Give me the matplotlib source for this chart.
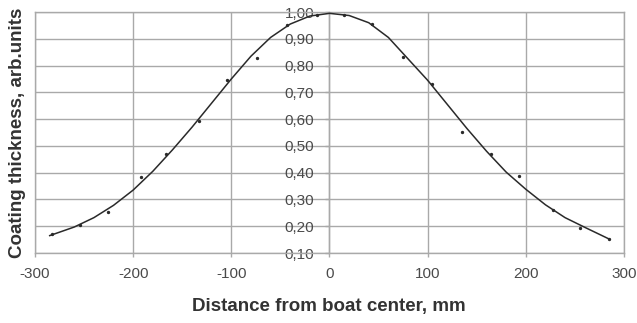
import matplotlib.pyplot as plt
from matplotlib.ticker import FuncFormatter

# measured points, mm from boat center -> relative thickness
dist = [-283, -254, -226, -192, -167, -133, -104, -74, -43, -13,
        15, 43, 75, 104, 135, 165, 193, 228, 255, 285]
thick = [0.172, 0.205, 0.253, 0.385, 0.47, 0.594, 0.746, 0.83, 0.952, 0.99,
         0.99, 0.954, 0.833, 0.73, 0.553, 0.47, 0.389, 0.261, 0.193, 0.152]

# fitted curve
fit_x = [-285, -260, -240, -220, -200, -180, -160, -140, -120, -100,
         -80, -60, -40, -20, 0, 20, 40, 60, 80, 100,
         120, 140, 160, 180, 200, 220, 240, 260, 285]
fit_y = [0.165, 0.197, 0.232, 0.278, 0.335, 0.405, 0.485, 0.570, 0.660, 0.750,
         0.835, 0.905, 0.955, 0.985, 0.995, 0.987, 0.960, 0.905, 0.825, 0.745,
         0.655, 0.565, 0.480, 0.402, 0.338, 0.280, 0.232, 0.196, 0.152]

x_ticks = [-300, -200, -100, 0, 100, 200, 300]
y_ticks = [0.1, 0.2, 0.3, 0.4, 0.5, 0.6, 0.7, 0.8, 0.9, 1.0]

plt.rcParams['font.family'] = ['Liberation Sans', 'DejaVu Sans']
plt.rcParams['axes.unicode_minus'] = False
grid_c = '#a9a9a9'

fig = plt.figure(figsize=(6.37, 3.23), dpi=100)
ax = fig.add_axes([0.0549, 0.2167, 0.9247, 0.7461])

ax.plot(fit_x, fit_y, color='#2a2a2a', lw=1.1, zorder=3)
ax.plot(dist, thick, 'o', color='#2a2a2a', ms=1.4, zorder=4)

ax.set_xlim(-300, 300)
ax.set_ylim(0.1, 1.0)
ax.set_xticks(x_ticks)
ax.set_yticks(y_ticks)
ax.yaxis.set_major_formatter(FuncFormatter(lambda v, p: f'{v:.2f}'.replace('.', ',')))

ax.grid(True, color=grid_c, lw=1.0, zorder=0)
ax.axvline(-300, color=grid_c, lw=1.0, clip_on=False)

ax.spines['left'].set_position(('data', 0))
for s in ax.spines.values():
    s.set_color(grid_c)
    s.set_linewidth(1.0)

ax.tick_params(axis='both', colors=grid_c, labelcolor='#4a4a4a', labelsize=11, length=3, width=1.0)
ax.tick_params(axis='x', pad=7)
ax.tick_params(axis='y', pad=8)

fig.text(0.5165, 0.05, 'Distance from boat center, mm', ha='center', va='center',
         fontsize=13.5, fontweight='bold', color='#333333')
fig.text(0.027, 0.589, 'Coating thickness, arb.units', ha='center', va='center',
         rotation=90, fontsize=13.5, fontweight='bold', color='#333333')

fig.savefig('out.png', dpi=100)
